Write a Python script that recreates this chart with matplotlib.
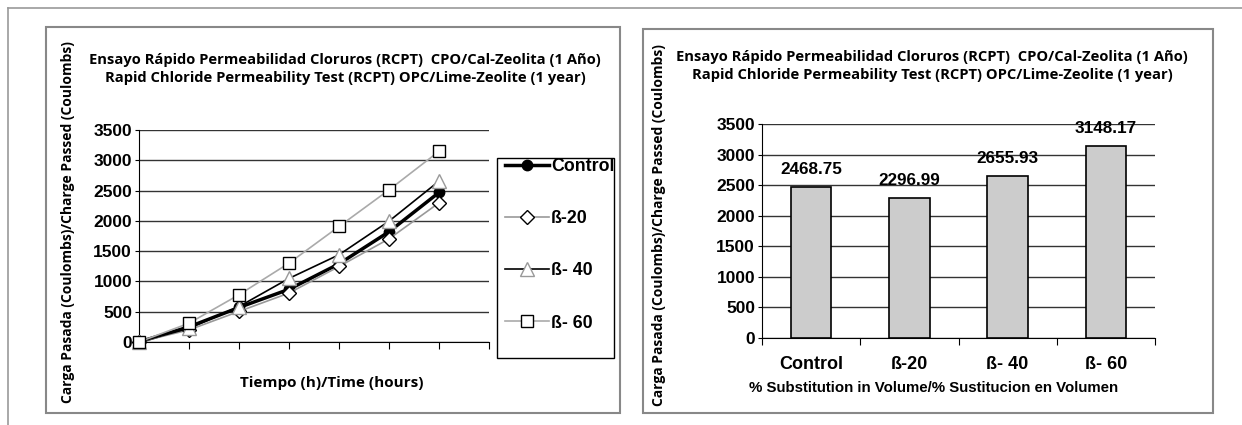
import matplotlib.pyplot as plt
from matplotlib.patches import Rectangle
from matplotlib.lines import Line2D

# data
hours = [0, 1, 2, 3, 4, 5, 6]
control = [0, 250, 570, 870, 1290, 1820, 2468.75]
beta20 = [0, 200, 505, 808, 1247, 1703, 2296.99]
beta40 = [0, 225, 585, 1050, 1440, 1995, 2655.93]
beta60 = [0, 310, 780, 1302, 1907, 2511, 3148.17]

groups = ['Control', 'ß-20', 'ß- 40', 'ß- 60']
totals = [2468.75, 2296.99, 2655.93, 3148.17]

title = ('Ensayo Rápido Permeabilidad Cloruros (RCPT)  CPO/Cal-Zeolita (1 Año)\n'
         'Rapid Chloride Permeability Test (RCPT) OPC/Lime-Zeolite (1 year)')
ylab = 'Carga Pasada (Coulombs)/Charge Passed (Coulombs)'

W, H = 1242, 425
fig = plt.figure(figsize=(W / 100, H / 100), dpi=100)


def fx(px):
    return px / W


def fy(py):
    return 1 - py / H


title_font = dict(family=['Open Sans', 'DejaVu Sans'], fontweight='bold', fontsize=10.6)
ylab_font = dict(family=['Open Sans', 'DejaVu Sans'], fontweight='bold', fontsize=10.0)
tick_font = dict(family='Liberation Sans', fontweight='bold', fontsize=12.5)

# outer frame lines
fig.add_artist(Line2D([fx(8), 1], [fy(8), fy(8)], color='#999999', lw=1.2))
fig.add_artist(Line2D([fx(8), fx(8)], [fy(8), 0], color='#999999', lw=1.2))

# panel boxes + legend box
for x0, x1, y0, y1, c in [(46, 620, 27, 413, '#888888'), (643, 1213, 29, 413, '#888888'),
                          (497, 614, 158, 358, 'black')]:
    fig.add_artist(Rectangle((fx(x0), fy(y1)), fx(x1) - fx(x0), fy(y0) - fy(y1),
                             fill=False, edgecolor=c, lw=1.5 if c != 'black' else 1))

# ---- left: line chart
ax1 = fig.add_axes([fx(139), fy(342), fx(489) - fx(139), fy(130) - fy(342)])
ax1.plot(hours, control, color='black', lw=2.5, marker='o', ms=7.5,
         mfc='black', mec='black', label='Control', clip_on=False, zorder=3)
ax1.plot(hours, beta20, color='#999999', lw=1.2, marker='D', ms=7.5,
         mfc='white', mec='black', label='ß-20', clip_on=False, zorder=4)
ax1.plot(hours, beta40, color='black', lw=1.2, marker='^', ms=10.5,
         mfc='white', mec='#999999', label='ß- 40', clip_on=False, zorder=4)
ax1.plot(hours, beta60, color='#aaaaaa', lw=1.2, marker='s', ms=8.5,
         mfc='white', mec='black', label='ß- 60', clip_on=False, zorder=5)
ax1.set_xlim(0, 7)
ax1.set_ylim(0, 3500)
ax1.set_xticks(range(8))
ax1.set_xticklabels([])
ax1.set_yticks(range(0, 3501, 500))
ax1.yaxis.grid(True, color='#333333', lw=1)
ax1.set_axisbelow(True)
for s in ['top', 'right']:
    ax1.spines[s].set_visible(False)
ax1.tick_params(axis='x', length=5, direction='out')
ax1.tick_params(axis='y', length=3, pad=2)
for t in ax1.get_yticklabels():
    t.set(**tick_font)

leg = ax1.legend(loc='upper left', bbox_to_anchor=(fx(505), fy(158)),
                 bbox_transform=fig.transFigure, borderaxespad=0, borderpad=0,
                 prop=dict(family='Liberation Sans', weight='bold', size=12.8),
                 frameon=False, handlelength=2.5, handletextpad=0.1, labelspacing=1.98)

fig.text(fx(345), fy(69), title, ha='center', va='center', linespacing=1.3, **title_font)
fig.text(fx(68), fy(222), ylab, rotation=90, ha='center', va='center', **ylab_font)
fig.text(fx(332), fy(383), 'Tiempo (h)/Time (hours)', ha='center', va='center',
         family=['Open Sans', 'DejaVu Sans'], fontweight='bold', fontsize=11)

# ---- right: bar chart
ax2 = fig.add_axes([fx(762), fy(338), fx(1155) - fx(762), fy(124) - fy(338)])
pos = range(len(groups))
bars = ax2.bar(pos, totals, width=0.41, color='#cccccc', edgecolor='black', lw=1.2, zorder=3)
ax2.set_xlim(-0.5, 3.5)
ax2.set_ylim(0, 3500)
ax2.set_yticks(range(0, 3501, 500))
ax2.set_xticks([p - 0.5 for p in range(5)], minor=False)
ax2.set_xticklabels([])
ax2.set_xticks(list(pos), minor=True)
ax2.set_xticklabels(groups, minor=True)
ax2.tick_params(axis='x', which='minor', length=0, pad=13)
ax2.tick_params(axis='x', which='major', length=5)
ax2.tick_params(axis='y', length=3, pad=2)
for t in ax2.get_yticklabels():
    t.set(**tick_font)
for t in ax2.get_xticklabels(minor=True):
    t.set(family='Liberation Sans', fontweight='bold', fontsize=13)
ax2.yaxis.grid(True, color='#333333', lw=1)
ax2.set_axisbelow(True)
for s in ['top', 'right']:
    ax2.spines[s].set_visible(False)
for b, v in zip(bars, totals):
    ax2.annotate(f'{v:.2f}', (b.get_x() + b.get_width() / 2, v), xytext=(0, 7),
                 textcoords='offset points', ha='center', va='bottom',
                 family='Liberation Sans', fontweight='bold', fontsize=12.3)

fig.text(fx(932), fy(66), title, ha='center', va='center', linespacing=1.3, **title_font)
fig.text(fx(659), fy(225), ylab, rotation=90, ha='center', va='center', **ylab_font)
fig.text(fx(934), fy(388), '% Substitution in Volume/% Sustitucion en Volumen',
         ha='center', va='center', family=['Liberation Sans Narrow', 'Liberation Sans'],
         fontweight='bold', fontsize=10.8)

fig.savefig('out.png', dpi=100)
